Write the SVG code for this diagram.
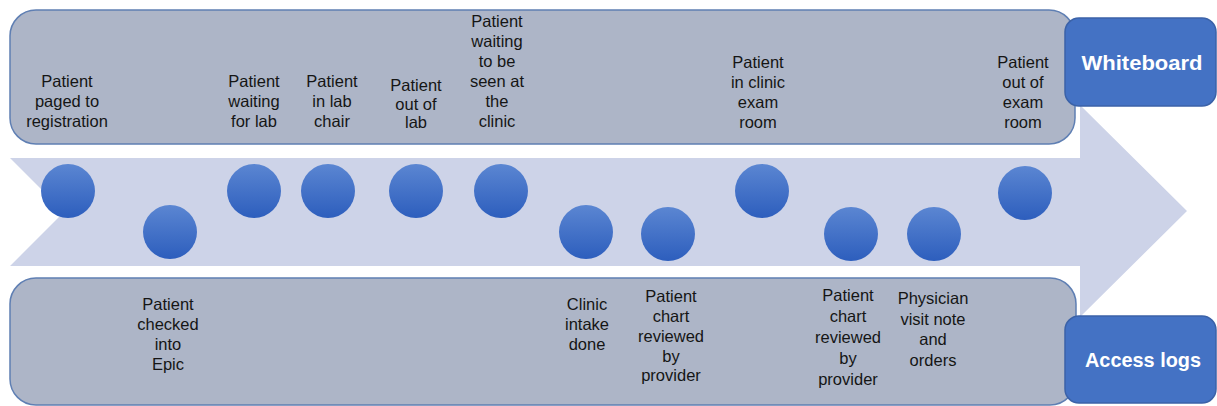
<svg xmlns="http://www.w3.org/2000/svg" width="1217" height="406" viewBox="0 0 1217 406">
<defs>
<linearGradient id="dot" x1="0" y1="0" x2="0" y2="1">
<stop offset="0" stop-color="#5b86d2"/>
<stop offset="1" stop-color="#2d5ebd"/>
</linearGradient>
<style>
.band{fill:#adb5c7;stroke:#5f7fb3;stroke-width:1.5}
.tag{fill:#4472c4;stroke:#3b62a8;stroke-width:1.5}
.dot{fill:url(#dot)}
.lbl{font-family:"Liberation Sans",Arial,sans-serif;font-size:16.5px;fill:#151515;text-anchor:middle}
.tagt{font-family:"Liberation Sans",Arial,sans-serif;font-size:21px;font-weight:bold;fill:#ffffff;text-anchor:middle}
</style>
</defs>
<rect width="1217" height="406" fill="#ffffff"/>
<g id="timeline-arrow">
<polygon points="10,158 1080,158 1080,105 1187,211 1080,317 1080,266 10,266 64,212" fill="#cdd3e8"/>
</g>
<g id="whiteboard-band"><rect class="band" x="10" y="10" width="1065" height="134" rx="26"/></g>
<g id="accesslogs-band"><rect class="band" x="10" y="278" width="1066" height="127" rx="26"/></g>
<g id="connectors"></g>
<g id="whiteboard"><rect class="tag" x="1065" y="18" width="151" height="88" rx="14"/><text class="tagt" x="1142" y="70" textLength="121" lengthAdjust="spacingAndGlyphs">Whiteboard</text></g>
<g id="access-logs"><rect class="tag" x="1065" y="316" width="151" height="87" rx="14"/><text class="tagt" x="1143" y="367" textLength="116" lengthAdjust="spacingAndGlyphs">Access logs</text></g>

<g id="e1"><circle class="dot" cx="68" cy="191" r="27"/><text class="lbl"><tspan x="67" y="87">Patient</tspan><tspan x="67" y="107">paged to</tspan><tspan x="67" y="127">registration</tspan></text></g>
<g id="e2"><circle class="dot" cx="170" cy="232" r="27"/><text class="lbl"><tspan x="168" y="310">Patient</tspan><tspan x="168" y="330">checked</tspan><tspan x="168" y="350">into</tspan><tspan x="168" y="370">Epic</tspan></text></g>
<g id="e3"><circle class="dot" cx="254" cy="191" r="27"/><text class="lbl"><tspan x="254" y="87">Patient</tspan><tspan x="254" y="107">waiting</tspan><tspan x="254" y="127">for lab</tspan></text></g>
<g id="e4"><circle class="dot" cx="328" cy="191" r="27"/><text class="lbl"><tspan x="332" y="87">Patient</tspan><tspan x="332" y="107">in lab</tspan><tspan x="332" y="127">chair</tspan></text></g>
<g id="e5"><circle class="dot" cx="416" cy="191" r="27"/><text class="lbl"><tspan x="416" y="91">Patient</tspan><tspan x="416" y="110">out of</tspan><tspan x="416" y="128">lab</tspan></text></g>
<g id="e6"><circle class="dot" cx="501" cy="191" r="27"/><text class="lbl"><tspan x="497" y="27">Patient</tspan><tspan x="497" y="47">waiting</tspan><tspan x="497" y="67">to be</tspan><tspan x="497" y="87">seen at</tspan><tspan x="497" y="107">the</tspan><tspan x="497" y="127">clinic</tspan></text></g>
<g id="e7"><circle class="dot" cx="586" cy="232" r="27"/><text class="lbl"><tspan x="587" y="310">Clinic</tspan><tspan x="587" y="330">intake</tspan><tspan x="587" y="350">done</tspan></text></g>
<g id="e8"><circle class="dot" cx="668" cy="234" r="27"/><text class="lbl"><tspan x="671" y="302">Patient</tspan><tspan x="671" y="322">chart</tspan><tspan x="671" y="342">reviewed</tspan><tspan x="671" y="362">by</tspan><tspan x="671" y="381">provider</tspan></text></g>
<g id="e9"><circle class="dot" cx="762" cy="191" r="27"/><text class="lbl"><tspan x="758" y="68">Patient</tspan><tspan x="758" y="88">in clinic</tspan><tspan x="758" y="108">exam</tspan><tspan x="758" y="128">room</tspan></text></g>
<g id="e10"><circle class="dot" cx="851" cy="234" r="27"/><text class="lbl"><tspan x="848" y="301">Patient</tspan><tspan x="848" y="322">chart</tspan><tspan x="848" y="343">reviewed</tspan><tspan x="848" y="364">by</tspan><tspan x="848" y="385">provider</tspan></text></g>
<g id="e11"><circle class="dot" cx="934" cy="234" r="27"/><text class="lbl"><tspan x="933" y="304">Physician</tspan><tspan x="933" y="324.5">visit note</tspan><tspan x="933" y="345">and</tspan><tspan x="933" y="365.5">orders</tspan></text></g>
<g id="e12"><circle class="dot" cx="1025" cy="193" r="27"/><text class="lbl"><tspan x="1023" y="68">Patient</tspan><tspan x="1023" y="88">out of</tspan><tspan x="1023" y="108">exam</tspan><tspan x="1023" y="128">room</tspan></text></g>
</svg>
